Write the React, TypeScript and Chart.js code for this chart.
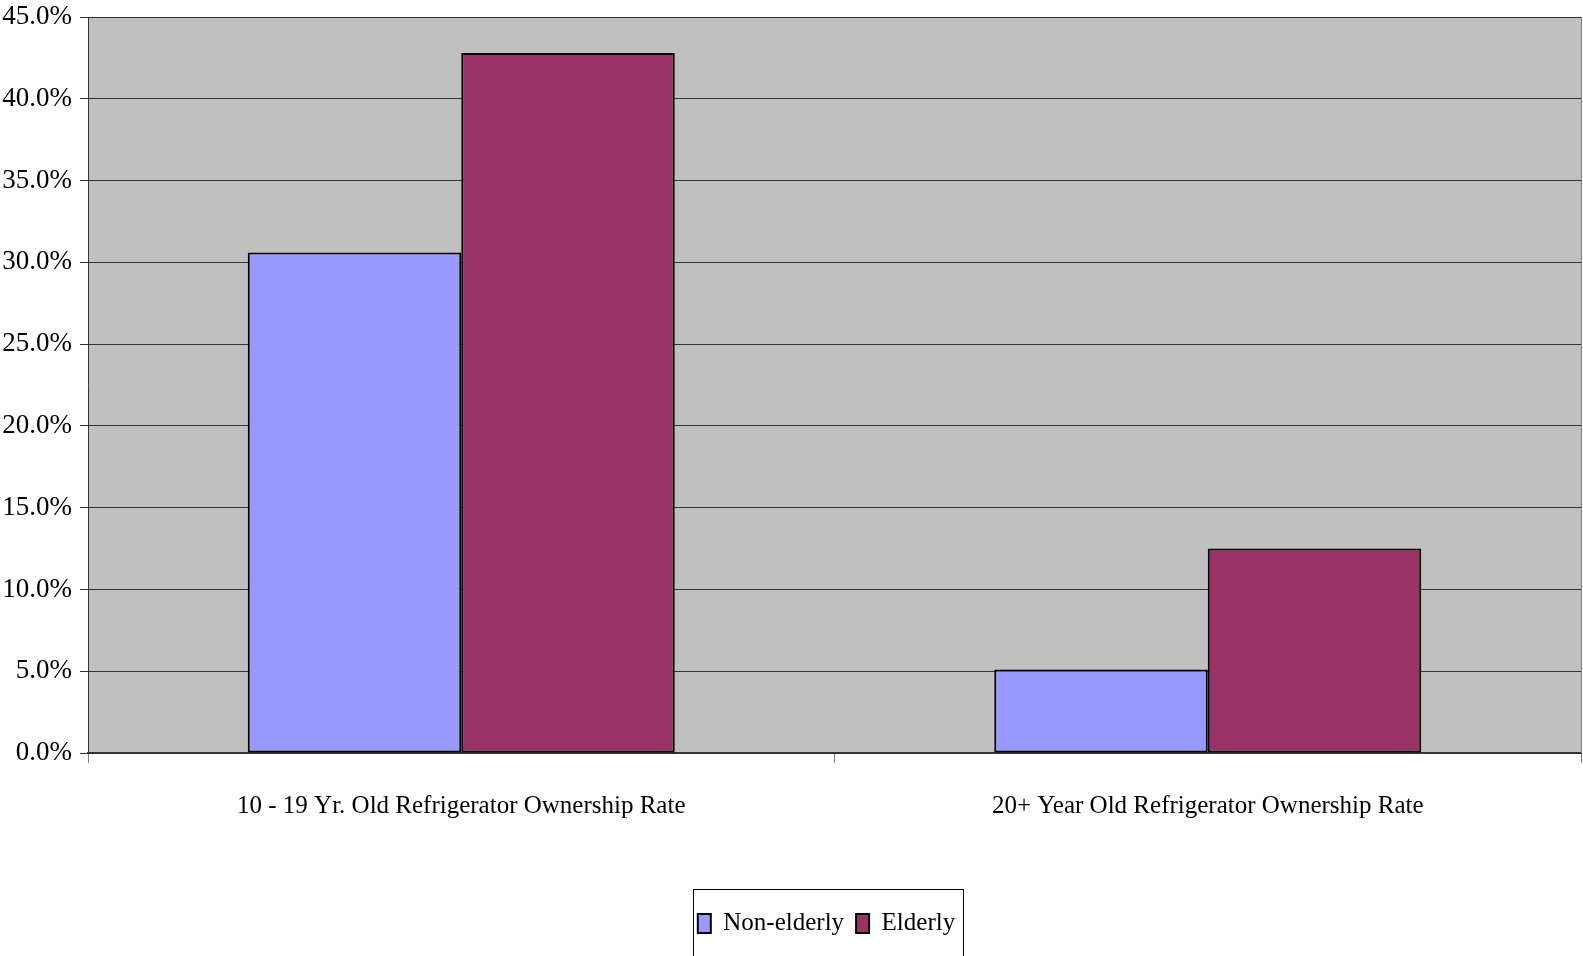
import React, { useEffect, useRef } from "react";
import { Chart, registerables } from "chart.js";

Chart.register(...registerables);

const categories = [
  "10 - 19 Yr. Old Refrigerator Ownership Rate",
  "20+ Year Old Refrigerator Ownership Rate",
];
const nonElderly = [30.6, 5.1];
const elderly = [42.8, 12.5];
const seriesNames = ["Non-elderly", "Elderly"];

const FONT = "'Liberation Serif', 'Times New Roman', serif";

const bgPlugin = {
  id: "plotBg",
  afterLayout(chart: any) {
    const lg = chart.legend;
    if (!lg) return;
    const area = chart.chartArea;
    const d = (area.left + area.right) / 2 - 8 - (lg.left + lg.right) / 2;
    lg.left += d;
    lg.right += d;
  },
  beforeDraw(chart: any) {
    const { ctx, chartArea } = chart;
    ctx.save();
    ctx.fillStyle = "#C0C0C0";
    ctx.fillRect(chartArea.left, chartArea.top, chartArea.right - chartArea.left, chartArea.bottom - chartArea.top);
    ctx.restore();
  },
  afterDraw(chart: any) {
    const { ctx, chartArea } = chart;
    ctx.save();
    ctx.strokeStyle = "#808080";
    ctx.lineWidth = 1;
    ctx.beginPath();
    ctx.moveTo(chartArea.right + 0.5, chartArea.top);
    ctx.lineTo(chartArea.right + 0.5, chartArea.bottom);
    ctx.stroke();
    const lg = chart.legend;
    if (lg && lg.legendHitBoxes && lg.legendHitBoxes.length) {
      let l = Infinity, r = -Infinity;
      lg.legendHitBoxes.forEach((h: any) => {
        l = Math.min(l, h.left);
        r = Math.max(r, h.left + h.width);
      });
      const w = r - l + 13;
      const cx = (lg.left + lg.right) / 2 + 2;
      const top = lg.top - 10;
      ctx.strokeStyle = "#000";
      ctx.lineWidth = 1;
      ctx.strokeRect(Math.round(cx - w / 2) + 0.5, Math.round(top) + 0.5, Math.round(w), 70);
    }
    ctx.restore();
  },
};

export default function App() {
  const ref = useRef<HTMLCanvasElement>(null);
  useEffect(() => {
    const chart = new Chart(ref.current!, {
      type: "bar",
      data: {
        labels: categories,
        datasets: [
          {
            label: seriesNames[0],
            data: nonElderly,
            backgroundColor: "#9999FF",
            borderColor: "#000",
            borderWidth: 2,
            borderSkipped: false,
          },
          {
            label: seriesNames[1],
            data: elderly,
            backgroundColor: "#993366",
            borderColor: "#000",
            borderWidth: 2,
            borderSkipped: false,
          },
        ],
      },
      options: {
        animation: false,
        responsive: false,
        maintainAspectRatio: false,
        layout: { padding: { top: 17, right: 2, left: 0, bottom: 10 } },
        datasets: { bar: { categoryPercentage: 0.572, barPercentage: 1 } },
        plugins: {
          tooltip: { enabled: false },
          legend: {
            position: "bottom",
            labels: {
              color: "#000",
              font: { family: FONT, size: 25 },
              boxWidth: 13,
              boxHeight: 19,
              padding: 12,
            },
          },
        },
        scales: {
          x: {
            offset: true,
            grid: {
              offset: true,
              drawOnChartArea: false,
              drawTicks: true,
              tickLength: 10,
              color: "#808080",
            },
            border: { color: "#333", width: 2 },
            ticks: {
              color: "#000",
              font: { family: FONT, size: 25 },
              padding: 28,
              maxRotation: 0,
            },
            afterFit(scale: any) {
              scale.height = 146;
            },
          },
          y: {
            min: 0,
            max: 45,
            grid: { color: "#333", tickLength: 8, lineWidth: 1 },
            border: { color: "#333", width: 1 },
            ticks: {
              stepSize: 5,
              color: "#000",
              font: { family: FONT, size: 27 },
              padding: 8,
              callback: (v: any) => Number(v).toFixed(1) + "%",
            },
            afterFit(scale: any) {
              scale.width = 88;
              scale.paddingTop = 0;
              scale.paddingBottom = 0;
            },
          },
        },
      },
      plugins: [bgPlugin],
    });
    return () => chart.destroy();
  }, []);
  return (
    <div style={{ position: "fixed", left: 0, top: 0, width: 1583, height: 956, background: "#fff" }}>
      <canvas ref={ref} width={1583} height={956} style={{ width: 1583, height: 956 }} />
    </div>
  );
}
